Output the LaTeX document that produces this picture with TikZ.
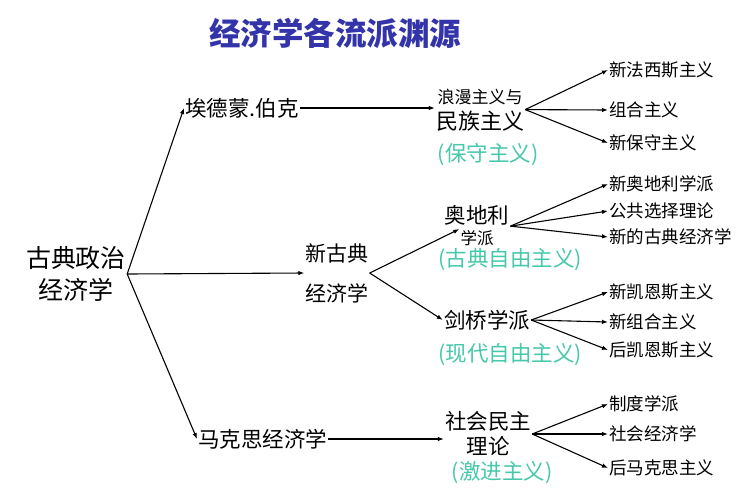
\documentclass[tikz,border=0pt]{standalone}
\usepackage{fontspec}
\newfontfamily\cjk{Noto Sans CJK SC}
\usetikzlibrary{arrows.meta}
\definecolor{titleblue}{RGB}{52,52,170}
\definecolor{ideocyan}{RGB}{70,200,170}
\begin{document}
\begin{tikzpicture}[x=1pt,y=-1pt,
  every node/.style={font=\cjk, inner sep=1pt},
  arr/.style={draw, line width=1.1pt, -{Latex[length=6pt,width=4.5pt]}},
  leaf/.style={anchor=west, font=\cjk\fontsize{17.5}{20}\selectfont},
  mid/.style={font=\cjk\fontsize{21.5}{25}\selectfont},
  ideo/.style={text=ideocyan, font=\cjk\fontsize{21.5}{25}\selectfont}]
\fill[white] (0,0) rectangle (750,491);
\useasboundingbox (0,0) rectangle (750,491);

\node[text=titleblue, font=\cjk\bfseries\fontsize{31.5}{36}\selectfont] (title) at (335,33) {经济学各流派渊源};

\node[align=center, font=\cjk\fontsize{25}{32}\selectfont] (gd) at (76,274) {古典政治\\经济学};

\node[mid, anchor=west] (burke) at (184,108) {埃德蒙.伯克};
\node[font=\cjk\fontsize{17}{20}\selectfont] (lm1) at (480,97) {浪漫主义与};
\node[font=\cjk\fontsize{22}{24}\selectfont] (lm2) at (480,121) {民族主义};
\node[ideo] (bs) at (488,155) {(保守主义)};
\node[leaf] (l1) at (608,70) {新法西斯主义};
\node[leaf] (l2) at (608,110) {组合主义};
\node[leaf] (l3) at (608,143) {新保守主义};

\node[align=center, font=\cjk\fontsize{21}{40}\selectfont] (xgd) at (337,273) {新古典\\经济学};
\node[mid] (adl) at (477,215) {奥地利};
\node[font=\cjk\fontsize{16.5}{18}\selectfont] (xp) at (477,238) {学派};
\node[ideo] (gdzy) at (510,260) {(古典自由主义)};
\node[leaf] (a1) at (608,184) {新奥地利学派};
\node[leaf] (a2) at (608,211) {公共选择理论};
\node[leaf] (a3) at (608,237) {新的古典经济学};

\node[mid] (jq) at (487,320) {剑桥学派};
\node[ideo] (xdzy) at (510,355) {(现代自由主义)};
\node[leaf] (j1) at (608,292) {新凯恩斯主义};
\node[leaf] (j2) at (608,322) {新组合主义};
\node[leaf] (j3) at (608,350) {后凯恩斯主义};

\node[mid, anchor=west] (mks) at (197,439) {马克思经济学};
\node[mid, align=center] (sh) at (488,434) {社会民主\\理论};
\node[ideo] (jj) at (502,473) {(激进主义)};
\node[leaf] (m1) at (608,404) {制度学派};
\node[leaf] (m2) at (608,434) {社会经济学};
\node[leaf] (m3) at (608,468) {后马克思主义};

\draw[arr] (gd.east) -- (burke.west);
\draw[arr] (gd.east) -- (xgd.west);
\draw[arr] (gd.east) -- (mks.west);

\draw[arr] (burke.east) -- (burke.east -| lm2.west);
\draw[arr] (lm2.north east) -- (l1.west);
\draw[arr] (lm2.north east) -- (l2.west);
\draw[arr] (lm2.north east) -- (l3.west);

\draw[arr] (xgd.east) -- (xp.north west);
\draw[arr] (xgd.east) -- (jq.west);
\draw[arr] (adl.south east) -- (a1.west);
\draw[arr] (adl.south east) -- (a2.west);
\draw[arr] (adl.south east) -- (a3.west);
\draw[arr] (jq.east) -- (j1.west);
\draw[arr] (jq.east) -- (j2.west);
\draw[arr] (jq.east) -- (j3.west);

\draw[arr] (mks.east) -- (mks.east -| sh.west);
\draw[arr] (sh.east) -- (m1.west);
\draw[arr] (sh.east) -- (m2.west);
\draw[arr] (sh.east) -- (m3.west);
\end{tikzpicture}
\end{document}
